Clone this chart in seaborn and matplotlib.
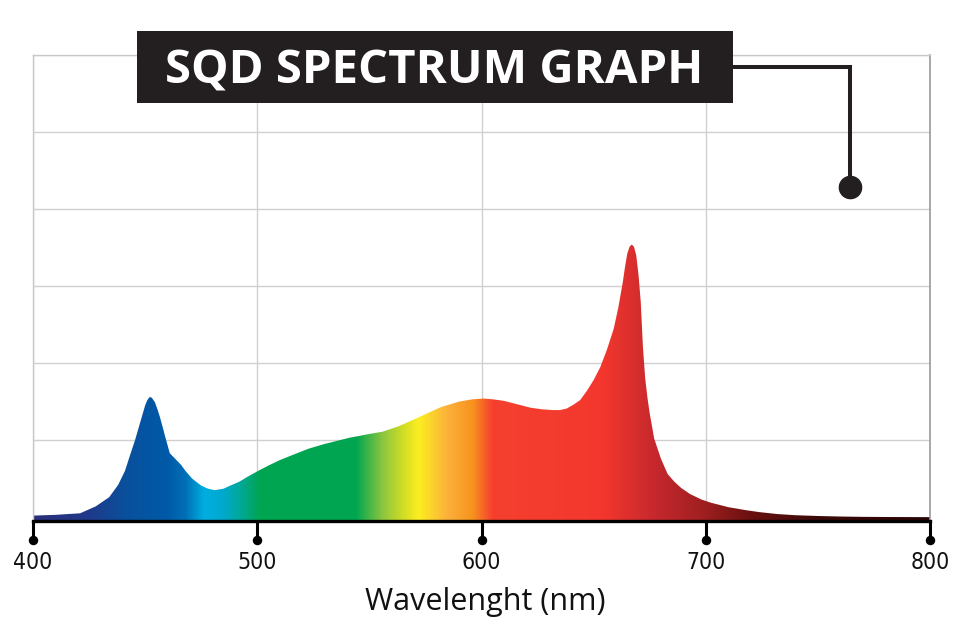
import numpy as np
import pandas as pd
import matplotlib
matplotlib.use("Agg")
import matplotlib.pyplot as plt
import seaborn as sns
from matplotlib.colors import LinearSegmentedColormap
from matplotlib.patches import Rectangle
from matplotlib.lines import Line2D
from matplotlib.transforms import blended_transform_factory

# ---------------- data ----------------
wavelength = [400, 410, 421, 428, 434, 438, 441, 443, 445.5, 448, 450, 451, 452, 453, 454.4,
              455.5, 456.6, 458, 458.8, 461, 463, 466, 468, 471, 475, 478, 481, 485, 488, 492,
              496, 501, 505, 510, 516, 523, 530, 541, 550, 556, 563, 570, 576, 582, 590,
              596, 601, 605, 610, 614, 618, 622, 627, 632, 635, 638, 641, 644, 647, 650,
              653, 656, 659, 661, 663, 664, 665, 666, 667, 668, 669, 670, 671, 672, 673,
              674, 675, 677, 680, 683, 686, 689, 693, 698, 702, 710, 718, 724, 732, 740,
              750, 760, 770, 780, 800]
intensity = [0.02, 0.03, 0.05, 0.14, 0.26, 0.42, 0.60, 0.78, 1.00, 1.25, 1.45, 1.52, 1.56, 1.55, 1.49,
             1.40, 1.30, 1.15, 1.06, 0.83, 0.77, 0.68, 0.60, 0.50, 0.41, 0.37, 0.35, 0.37, 0.41, 0.46,
             0.53, 0.61, 0.67, 0.74, 0.81, 0.89, 0.95, 1.03, 1.08, 1.11, 1.18, 1.27, 1.35, 1.43, 1.50,
             1.53, 1.54, 1.53, 1.51, 1.48, 1.45, 1.42, 1.40, 1.39, 1.39, 1.41, 1.46, 1.52, 1.64, 1.78,
             1.95, 2.18, 2.45, 2.72, 3.05, 3.25, 3.42, 3.51, 3.54, 3.51, 3.40, 3.15, 2.80, 2.20, 1.80,
             1.55, 1.35, 1.02, 0.76, 0.56, 0.46, 0.38, 0.30, 0.23, 0.19, 0.13, 0.09, 0.065, 0.04, 0.025,
             0.015, 0.008, 0.004, 0.002, 0.0]

x_ticks = [400, 500, 600, 700, 800]
x_tick_labels = ["400", "500", "600", "700", "800"]
y_grid = [1, 2, 3, 4, 5, 6]

title_text = "SQD SPECTRUM GRAPH"
x_label = "Wavelenght (nm)"

# spectrum colour stops (nm, colour)
stop_nm = [400, 425, 440, 460, 468, 476, 484, 492, 501, 544, 556, 566, 572, 585, 596,
           605, 654, 680, 700, 720, 750, 800]
stop_col = ["#2b2f7a", "#1f3a8a", "#0a4f9c", "#005aa7", "#0070b8", "#00aee0", "#00a9d0",
            "#00a89a", "#00a551", "#00a651", "#8dc63f", "#d7df23", "#fcee21", "#fbb03b",
            "#f7931e", "#f5402f", "#f3372e", "#c1272d", "#9e1f1f", "#6b1010", "#3b0a08",
            "#2a0505"]

df = pd.DataFrame({"wavelength": wavelength, "intensity": intensity})

# ---------------- figure ----------------
sns.set_style("white")
plt.rcParams["font.family"] = ["Open Sans", "DejaVu Sans"]

W, H = 960, 640
fig = plt.figure(figsize=(9.6, 6.4), dpi=100)
ax = fig.add_axes([33 / W, (H - 521) / H, (930 - 33) / W, (521 - 55) / H])

ymin, ymax = -0.05, 6.0
ax.set_xlim(400, 800)
ax.set_ylim(ymin, ymax)

sns.lineplot(data=df, x="wavelength", y="intensity", ax=ax, color="#f3372e",
             linewidth=0, legend=False)

# gradient fill clipped to the spectrum
fill = ax.fill_between(df["wavelength"], ymin, df["intensity"], facecolor="none",
                       edgecolor="none", zorder=2)
cmap = LinearSegmentedColormap.from_list(
    "spec", [((n - 400) / 400, c) for n, c in zip(stop_nm, stop_col)], N=1024)
grad = np.linspace(0, 1, 1600).reshape(1, -1)
im = ax.imshow(grad, cmap=cmap, aspect="auto", extent=[400, 800, ymin, ymax],
               origin="lower", zorder=2, interpolation="bilinear")
im.set_clip_path(fill.get_paths()[0], transform=ax.transData)

# grid
ax.set_yticks(y_grid)
ax.set_yticklabels([])
ax.set_xticks(x_ticks)
ax.set_xticklabels(x_tick_labels, family=["DejaVu Sans"], fontstretch="condensed",
                   fontsize=16.5, color="#111111")
ax.grid(True, color="#d0d0d0", linewidth=1.0, zorder=0)
ax.set_axisbelow(True)
ax.tick_params(axis="y", length=0, left=False)
ax.tick_params(axis="x", bottom=True, direction="out", length=13.7, width=2.2,
               color="black", pad=8)

for s in ["left", "top"]:
    ax.spines[s].set_color("#c8c8c8")
    ax.spines[s].set_linewidth(1.0)
ax.spines["right"].set_color("#9a9a9a")
ax.spines["right"].set_linewidth(1.2)
ax.spines["bottom"].set_color("black")
ax.spines["bottom"].set_linewidth(2.4)
ax.spines["bottom"].set_zorder(5)
ax.set_xlabel("")
ax.set_ylabel("")

# dots at tick ends
tr = blended_transform_factory(ax.transData, ax.transAxes)
ax.plot(x_ticks, [-19 / 466] * len(x_ticks), "o", color="black", markersize=5.8,
        transform=tr, clip_on=False, zorder=6)

# x label
fig.text(485 / W, (H - 602) / H, x_label, ha="center", va="center", fontsize=22,
         color="#111111")

# title box
fig.patches.append(Rectangle((137 / W, (H - 103) / H), (733 - 137) / W, 72 / H,
                             transform=fig.transFigure, facecolor="#231f20",
                             edgecolor="none", zorder=10))
fig.text(434 / W, (H - 71) / H, title_text, ha="center", va="center", fontsize=34,
         fontweight="bold", color="white", zorder=11)

# connector with dot
fig.add_artist(Line2D([733 / W, 850 / W, 850 / W], [(H - 67) / H, (H - 67) / H, (H - 187) / H],
                      transform=fig.transFigure, color="#231f20", linewidth=2.9,
                      solid_joinstyle="miter", zorder=9))
fig.add_artist(Line2D([850 / W], [(H - 187) / H], transform=fig.transFigure, marker="o",
                      markersize=16, color="#231f20", linestyle="none", zorder=9))

fig.savefig("out.png", dpi=100)
